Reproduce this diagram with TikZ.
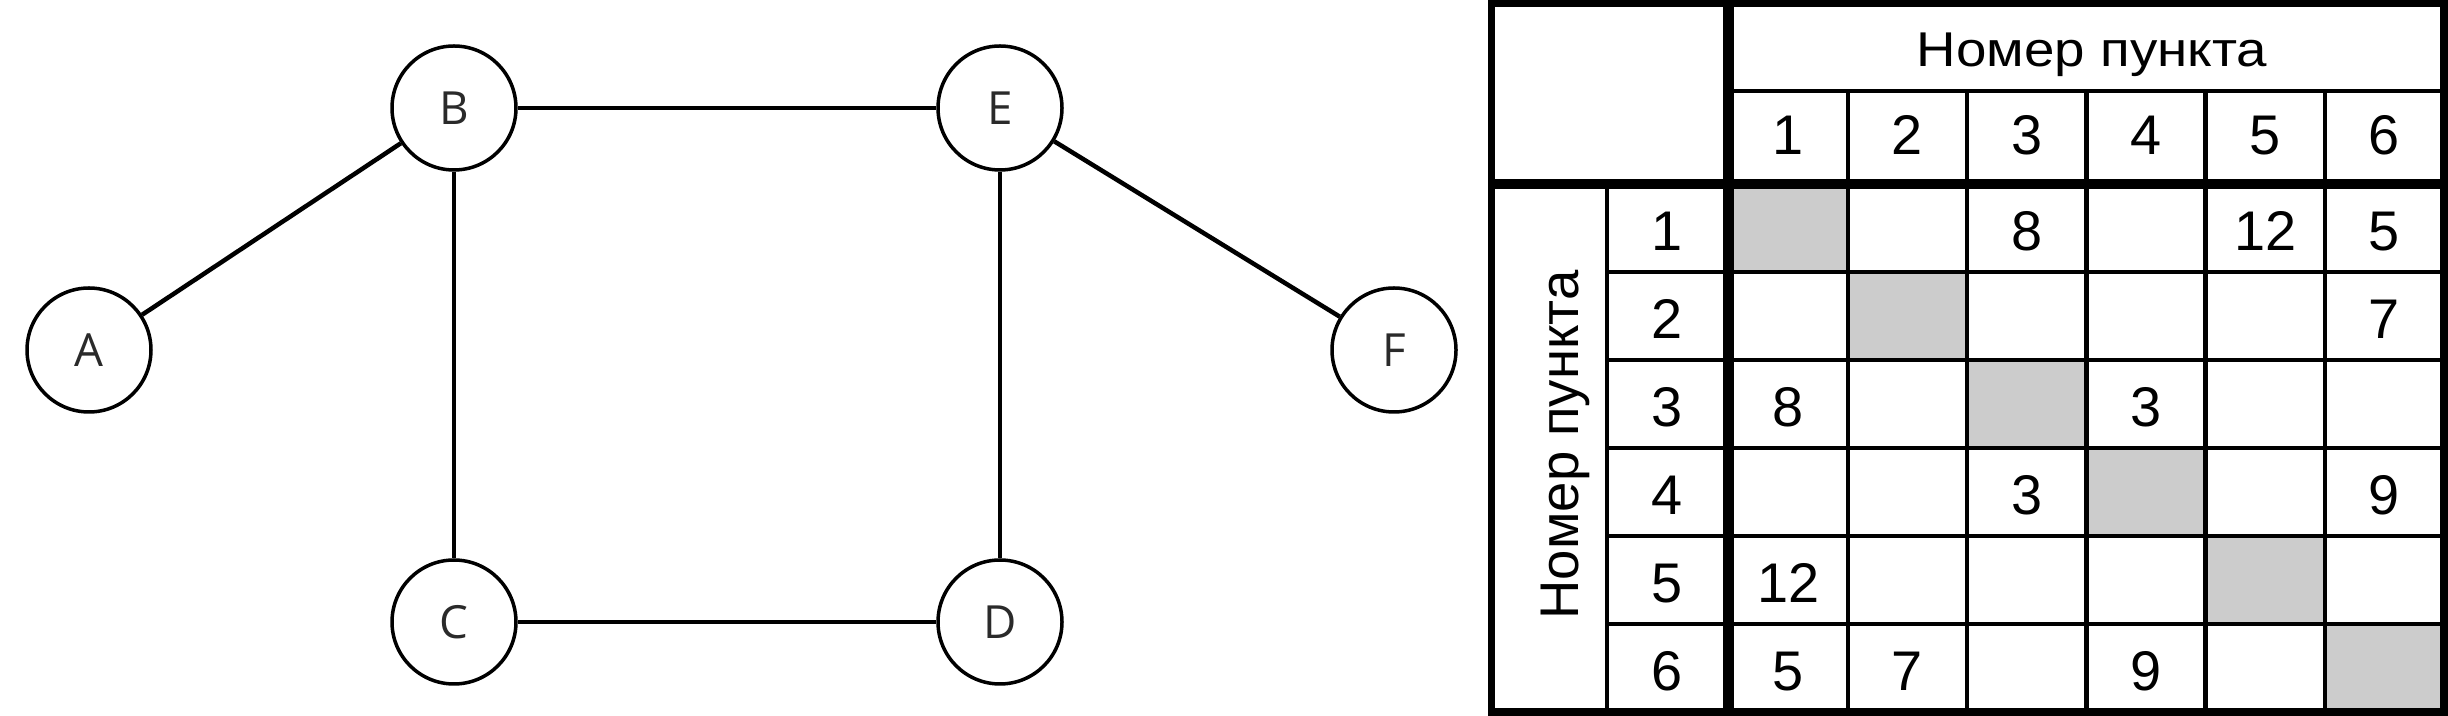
\documentclass[tikz,border=0pt]{standalone}
\usepackage{fontspec}
\setmainfont{Liberation Sans}
\newfontfamily\graphfont{Open Sans}
\newfontfamily\widefont[FakeStretch=1.12]{Liberation Sans}
\definecolor{cellgray}{HTML}{CCCCCC}
\definecolor{lettergray}{HTML}{2A2A2A}
\begin{document}
\begin{tikzpicture}[x=0.1mm,y=-0.1mm,
  vtx/.style={circle,draw=black,line width=0.35mm,minimum size=12.4mm,inner sep=0pt,
    font=\graphfont\fontsize{13}{15}\selectfont,text=lettergray},
  link/.style={line width=0.45mm},
  outer/.style={line width=0.75mm},
  thickrule/.style={line width=1.05mm},
  thinrule/.style={line width=0.45mm},
  hdrtext/.style={font=\widefont\fontsize{13.9}{16}\selectfont,anchor=base,inner sep=0pt},
  sidetext/.style={font=\fontsize{15.5}{18}\selectfont,anchor=base,inner sep=0pt},
  numtext/.style={font=\fontsize{15.9}{18}\selectfont,anchor=base,inner sep=0pt}
]
\useasboundingbox (0,0) rectangle (2448,716);
% ---------- graph ----------
\node[vtx] (A) at (89,350) {A};
\node[vtx] (B) at (454,108) {B};
\node[vtx] (C) at (454,622) {C};
\node[vtx] (D) at (1000,622) {D};
\node[vtx] (E) at (1000,108) {E};
\node[vtx] (F) at (1394,350) {F};
\draw[link] (A) -- (B);
\draw[link] (B) -- (E);
\draw[link] (B) -- (C);
\draw[link] (C) -- (D);
\draw[link] (E) -- (D);
\draw[link] (E) -- (F);
% ---------- table ----------
% gray diagonal cells
\foreach \i in {1,...,6}{
  \fill[cellgray] ({1728.5+119.25*(\i-1)},{184+88*(\i-1)}) rectangle ({1728.5+119.25*\i},{184+88*\i});
}
% body row lines
\foreach \k in {1,...,5}{
  \draw[thinrule] (1606.5,{184+88*\k}) -- (2444,{184+88*\k});
}
% column lines (header and body)
\foreach \k in {1,...,5}{
  \draw[thinrule] ({1728.5+119.25*\k},91) -- ({1728.5+119.25*\k},712);
}
% header rule
\draw[thinrule] (1728.5,91) -- (2444,91);
% body left split
\draw[line width=0.4mm] (1606.5,184) -- (1606.5,712);
% thick rules
\draw[thickrule] (1728.5,3.5) -- (1728.5,712);
\draw[thickrule] (1491.5,184) -- (2444,184);
% outer frame
\draw[outer] (1491.5,3.5) rectangle (2444,712);
% header texts
\node[hdrtext] (hdr) at (2092,67) {Номер пункта};
\node[sidetext,rotate=90] (side) at (1578,445) {Номер пункта};
\foreach \k in {1,...,6}{
  \node[numtext] (c\k) at ({1728.5+119.25*(\k-0.5)},155) {\k};
  \node[numtext] (r\k) at (1667.5,{184+88*(\k-1)+67}) {\k};
}
% matrix values
\newcommand{\cellval}[3]{\node[numtext] (v#1#2) at ({1728.5+119.25*(#2-0.5)},{184+88*(#1-1)+67}) {#3};}
\cellval{1}{3}{8}
\cellval{1}{5}{12}
\cellval{1}{6}{5}
\cellval{2}{6}{7}
\cellval{3}{1}{8}
\cellval{3}{4}{3}
\cellval{4}{3}{3}
\cellval{4}{6}{9}
\cellval{5}{1}{12}
\cellval{6}{1}{5}
\cellval{6}{2}{7}
\cellval{6}{4}{9}
\end{tikzpicture}
\end{document}
